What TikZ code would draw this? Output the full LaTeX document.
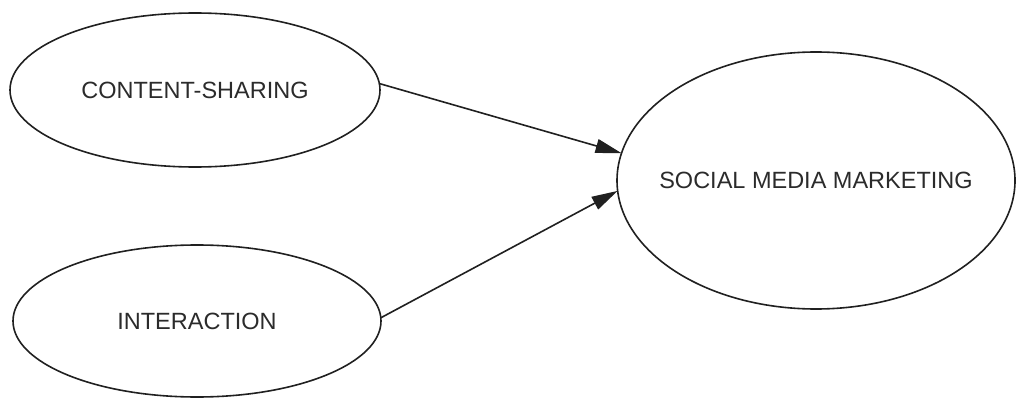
\documentclass[tikz,border=0pt]{standalone}
\usepackage{fontspec}
\setmainfont{Liberation Sans}
\usetikzlibrary{shapes.geometric,arrows.meta}
\definecolor{linec}{HTML}{202020}
\definecolor{textc}{HTML}{2B2B2B}
\tikzset{
  oval/.style={ellipse, draw=linec, line width=1.6pt, inner sep=0pt, outer sep=0pt, text=textc,
    font=\fontsize{23.5}{27}\selectfont},
  link/.style={draw=linec, line width=1.6pt, -{Triangle[length=26pt,width=14pt]}}
}
\begin{document}
\begin{tikzpicture}[x=1pt,y=-1pt]
\useasboundingbox (0,0) rectangle (1017,401);
\node[oval, minimum width=370pt, minimum height=154pt] (cs) at (195,90) {\makebox[0pt]{CONTENT-SHARING}};
\node[oval, minimum width=368pt, minimum height=152pt] (ia) at (197,321) {\makebox[0pt]{INTERACTION}};
\node[oval, minimum width=398pt, minimum height=257pt] (smm) at (816,180.5) {\makebox[0pt]{SOCIAL MEDIA MARKETING}};
\draw[link] (cs.2) -- (smm.172.5);
\draw[link] (ia.1) -- (smm.183.5);
\end{tikzpicture}
\end{document}
